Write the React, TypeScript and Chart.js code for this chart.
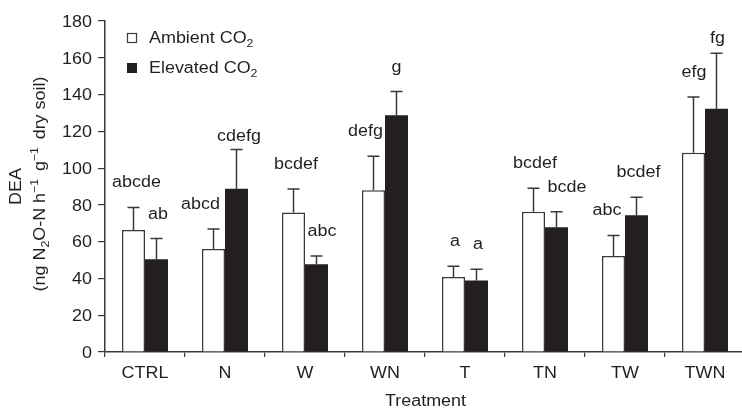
import React, { useEffect, useRef } from "react";
import { Chart, registerables } from "chart.js";

Chart.register(...registerables);

// ---------- data ----------
const treatments = ["CTRL", "N", "W", "WN", "T", "TN", "TW", "TWN"];
const ambientMean = [66.3, 56.0, 75.8, 87.9, 40.8, 76.3, 52.2, 108.3];
const ambientSE = [12.3, 10.9, 12.8, 18.6, 5.8, 12.8, 11.2, 30.4];
const elevatedMean = [50.4, 88.8, 47.7, 128.7, 38.9, 67.8, 74.3, 132.3];
const elevatedSE = [11.3, 21.3, 4.5, 12.9, 6.1, 8.5, 9.9, 30.2];
const ambientLetters = ["abcde", "abcd", "bcdef", "defg", "a", "bcdef", "abc", "efg"];
const elevatedLetters = ["ab", "cdefg", "abc", "g", "a", "bcde", "bcdef", "fg"];
const yMin = 0;
const yMax = 180;
const yStep = 20;

// ---------- label placement tweaks (pixels) ----------
const ambientLabelShift: [number, number][] = [[3, 0], [-13, 0], [2.5, 0], [-8, 0], [1.5, 0], [1.5, 0], [-6.5, 0], [0.5, 0]];
const elevatedLabelShift: [number, number][] = [[1.5, 0], [2.5, 11], [5.5, 0], [0, 0], [1.5, 0], [10.5, 0], [2, 0], [1, 10]];

const FONT = "'Liberation Sans', Arial, Helvetica, sans-serif";
const TEXT = "#231f20";
const LINE = "#3a3a3a";
const FS = 16;
const SX = 1.12; // horizontal stretch of the lettering

type Seg = { t: string; k?: "sub" | "sup"; gap?: number };

function segFont(k?: string) {
  return k ? `11px ${FONT}` : `${FS}px ${FONT}`;
}

function drawText(ctx: CanvasRenderingContext2D, text: string, x: number, y: number, align: CanvasTextAlign) {
  ctx.save();
  ctx.translate(x, y);
  ctx.scale(SX, 1);
  ctx.font = `${FS}px ${FONT}`;
  ctx.textAlign = align;
  ctx.textBaseline = "alphabetic";
  ctx.fillText(text, 0, 0);
  ctx.restore();
}

function drawRich(ctx: CanvasRenderingContext2D, segs: Seg[], x: number, y: number, align: "left" | "center") {
  ctx.save();
  ctx.translate(x, y);
  ctx.scale(SX, 1);
  let total = 0;
  for (const s of segs) {
    ctx.font = segFont(s.k);
    total += ctx.measureText(s.t).width + (s.gap || 0);
  }
  let cx = align === "center" ? -total / 2 : 0;
  ctx.textAlign = "left";
  ctx.textBaseline = "alphabetic";
  for (const s of segs) {
    ctx.font = segFont(s.k);
    const dy = s.k === "sub" ? 4 : s.k === "sup" ? -7 : 0;
    ctx.fillText(s.t, cx, dy);
    cx += ctx.measureText(s.t).width + (s.gap || 0);
  }
  ctx.restore();
}

const errorAndTextPlugin = {
  id: "errorAndText",
  afterDatasetsDraw(chart: any) {
    const ctx: CanvasRenderingContext2D = chart.ctx;
    const yScale = chart.scales.y;
    const sets = [
      { mean: ambientMean, se: ambientSE, letters: ambientLetters, shift: ambientLabelShift },
      { mean: elevatedMean, se: elevatedSE, letters: elevatedLetters, shift: elevatedLabelShift },
    ];
    ctx.save();
    sets.forEach((s, di) => {
      const meta = chart.getDatasetMeta(di);
      meta.data.forEach((bar: any, i: number) => {
        const x = bar.x;
        const yTop = yScale.getPixelForValue(s.mean[i]);
        const yErr = yScale.getPixelForValue(s.mean[i] + s.se[i]);
        ctx.strokeStyle = LINE;
        ctx.lineWidth = 1.5;
        ctx.beginPath();
        ctx.moveTo(x, yTop);
        ctx.lineTo(x, yErr);
        ctx.moveTo(x - 6, yErr);
        ctx.lineTo(x + 6, yErr);
        ctx.stroke();
        ctx.fillStyle = TEXT;
        const [dx, dy] = s.shift[i];
        drawText(ctx, s.letters[i], x + dx, yErr - 20 + dy, "center");
      });
    });
    ctx.restore();
  },
  afterDraw(chart: any) {
    const ctx: CanvasRenderingContext2D = chart.ctx;
    const xs = chart.scales.x;
    const ys = chart.scales.y;
    ctx.save();
    ctx.fillStyle = TEXT;

    // axis tick labels (positions from the scales)
    ys.ticks.forEach((t: any, i: number) => {
      drawText(ctx, String(t.value), 92, ys.getPixelForTick(i) + 5.8, "right");
    });
    xs.ticks.forEach((t: any, i: number) => {
      drawText(ctx, String(xs.getLabelForValue(t.value)), xs.getPixelForTick(i), 377.7, "center");
    });

    // legend
    ctx.fillStyle = "#ffffff";
    ctx.fillRect(127.5, 33.5, 9, 9);
    ctx.strokeStyle = LINE;
    ctx.lineWidth = 1.2;
    ctx.strokeRect(127.5, 33.5, 9, 9);
    ctx.fillStyle = TEXT;
    ctx.fillRect(127, 63, 10, 10);
    drawRich(ctx, [{ t: "Ambient CO" }, { t: "2", k: "sub" }], 149, 42.7, "left");
    drawRich(ctx, [{ t: "Elevated CO" }, { t: "2", k: "sub" }], 149, 73.3, "left");

    // x title
    drawText(ctx, "Treatment", 425.5, 405.5, "center");

    // y title
    ctx.save();
    ctx.translate(20.5, 186.5);
    ctx.rotate(-Math.PI / 2);
    drawRich(ctx, [{ t: "DEA" }], 0, 0, "center");
    ctx.restore();
    ctx.save();
    ctx.translate(45, 184);
    ctx.rotate(-Math.PI / 2);
    drawRich(
      ctx,
      [
        { t: "(ng N" },
        { t: "2", k: "sub" },
        { t: "O-N h" },
        { t: "\u22121", k: "sup", gap: 2.5 },
        { t: " g" },
        { t: "\u22121", k: "sup", gap: 2.5 },
        { t: " dry soil)" },
      ],
      0,
      0,
      "center"
    );
    ctx.restore();
    ctx.restore();
  },
};

export default function App() {
  const ref = useRef<HTMLCanvasElement | null>(null);

  useEffect(() => {
    if (!ref.current) return;
    Chart.defaults.font.family = FONT;
    const chart = new Chart(ref.current, {
      type: "bar",
      data: {
        labels: treatments,
        datasets: [
          {
            label: "Ambient CO2",
            data: ambientMean,
            backgroundColor: "#ffffff",
            borderColor: LINE,
            borderWidth: 1.5,
            categoryPercentage: 0.575,
            barPercentage: 1,
          },
          {
            label: "Elevated CO2",
            data: elevatedMean,
            backgroundColor: "#231f20",
            borderColor: "#231f20",
            borderWidth: 0,
            categoryPercentage: 0.575,
            barPercentage: 1,
          },
        ],
      },
      options: {
        animation: false,
        responsive: false,
        maintainAspectRatio: false,
        layout: { padding: { top: 21, right: 1, left: 0, bottom: 0 } },
        plugins: { legend: { display: false }, tooltip: { enabled: false }, title: { display: false } },
        scales: {
          x: {
            type: "category",
            offset: true,
            grid: {
              display: true,
              drawOnChartArea: false,
              drawTicks: true,
              tickLength: 5,
              offset: true,
              color: LINE,
              lineWidth: 1.2,
            },
            border: { display: true, color: LINE, width: 1.5 },
            ticks: { display: false, autoSkip: false, maxRotation: 0 },
            afterFit: (s: any) => {
              s.height = 56;
            },
          },
          y: {
            min: yMin,
            max: yMax,
            ticks: { display: false, stepSize: yStep },
            grid: { display: true, drawOnChartArea: false, drawTicks: true, tickLength: 7, color: LINE, lineWidth: 1.2 },
            border: { display: true, color: LINE, width: 1.5 },
            afterFit: (s: any) => {
              s.width = 105;
            },
          },
        },
      },
      plugins: [errorAndTextPlugin],
    } as any);
    return () => chart.destroy();
  }, []);

  return (
    <div style={{ position: "absolute", left: 0, top: 0, width: 742, height: 408, overflow: "hidden", background: "#fff" }}>
      <canvas ref={ref} width={746} height={408} style={{ width: 746, height: 408, display: "block" }} />
    </div>
  );
}
